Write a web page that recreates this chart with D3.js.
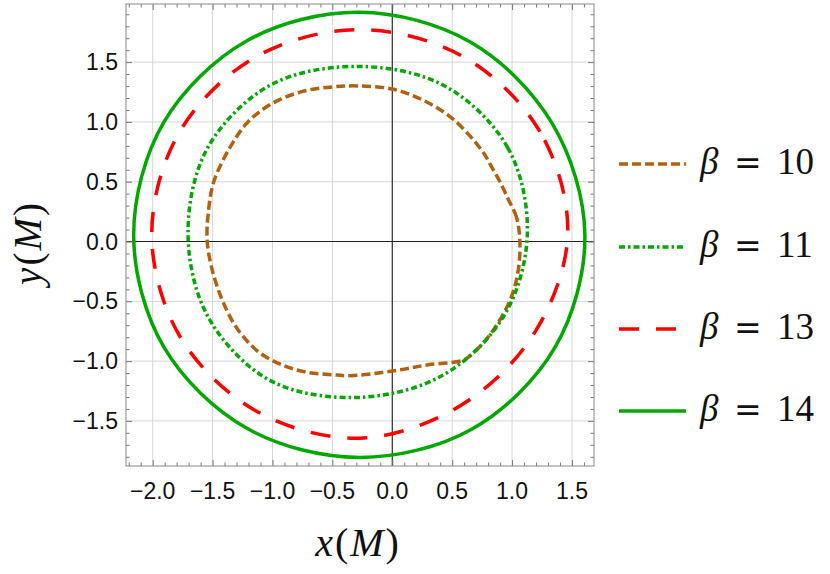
<!DOCTYPE html>
<html>
<head>
<meta charset="utf-8">
<script src="https://cdn.jsdelivr.net/npm/d3@7"></script>
<style>
  body { margin: 0; background: #fff; }
  svg { display: block; }
  .tick-label { font-family: "Liberation Sans", Arial, sans-serif; font-size: 23px; fill: #111; }
  .math { font-family: "Liberation Serif", "DejaVu Serif", serif; fill: #111; }
</style>
</head>
<body>
<div id="chart"></div>
<script>
// series labels
const betas = [10, 11, 13, 14];

// shadow contours, [x, y] in units of M
const curve10 = [
    [1.065, 0], [1.038, 0.2], [0.97, 0.35], [0.899, 0.5], [0.829, 0.624], [0.746, 0.764],
    [0.5, 1.03], [0.25, 1.185], [0, 1.275], [-0.29, 1.301], [-0.5, 1.293], [-0.75, 1.255],
    [-1.0, 1.156], [-1.2, 1.005], [-1.35, 0.795], [-1.49, 0.5], [-1.535, 0.25], [-1.545, 0],
    [-1.5, -0.25], [-1.415, -0.5], [-1.3, -0.72], [-1.12, -0.92], [-0.9, -1.04],
    [-0.7, -1.095], [-0.5, -1.114], [-0.35, -1.122], [-0.1, -1.097], [0.1, -1.067],
    [0.3, -1.03], [0.596, -0.991], [0.69, -0.919], [0.815, -0.78], [0.98, -0.5],
    [1.05, -0.25]
];
const curve11 = [
    [1.128, 0.08], [0.963, 0.786], [0.434, 1.303], [-0.289, 1.464], [-1.015, 1.309],
    [-1.54, 0.786], [-1.705, 0.08], [-1.54, -0.626], [-1.022, -1.161], [-0.289, -1.304],
    [0.42, -1.119], [0.938, -0.612]
];
const curve13 = [
    [1.465, 0.064], [1.233, 0.918], [0.597, 1.543], [-0.272, 1.772], [-1.14, 1.543],
    [-1.775, 0.918], [-2.008, 0.064], [-1.775, -0.79], [-1.14, -1.415], [-0.272, -1.644],
    [0.571, -1.371], [1.187, -0.764]
];
const curve14 = [
    [1.608, 0.055], [1.336, 0.985], [0.655, 1.666], [-0.275, 1.917], [-1.213, 1.679],
    [-1.907, 0.998], [-2.159, 0.055], [-1.905, -0.886], [-1.21, -1.564], [-0.275, -1.805],
    [0.663, -1.569], [1.357, -0.888]
];

// tick values
const xTicks = [-2.0, -1.5, -1.0, -0.5, 0.0, 0.5, 1.0, 1.5];
const yTicks = [-1.5, -1.0, -0.5, 0.0, 0.5, 1.0, 1.5];

const width = 830;
const height = 574;
const plot = { left: 126, right: 594, top: 4, bottom: 466 };

const x = d3.scaleLinear().domain([-2.223, 1.684]).range([plot.left, plot.right]);
const y = d3.scaleLinear().domain([-1.877, 1.986]).range([plot.bottom, plot.top]);

const styles = [
    { color: "#b3600f", dash: "9,4" },
    { color: "#00a800", dash: "6,3,2.5,3" },
    { color: "#ff0000", dash: "20,17" },
    { color: "#00a800", dash: null }
];
const curves = [curve10, curve11, curve13, curve14];

const svg = d3.select("#chart").append("svg")
    .attr("width", width)
    .attr("height", height);

const fmt = d => (d < 0 ? "\u2212" : "") + Math.abs(d).toFixed(1);

// grid
const grid = svg.append("g");
grid.selectAll(".gx").data(xTicks).enter().append("line")
    .attr("x1", d => x(d)).attr("x2", d => x(d))
    .attr("y1", plot.top).attr("y2", plot.bottom)
    .attr("stroke", "#d6d6d6").attr("stroke-width", 1);
grid.selectAll(".gy").data(yTicks).enter().append("line")
    .attr("y1", d => y(d)).attr("y2", d => y(d))
    .attr("x1", plot.left).attr("x2", plot.right)
    .attr("stroke", "#d6d6d6").attr("stroke-width", 1);

// zero axes
svg.append("line")
    .attr("x1", x(0)).attr("x2", x(0)).attr("y1", plot.top).attr("y2", plot.bottom)
    .attr("stroke", "#222").attr("stroke-width", 1.1);
svg.append("line")
    .attr("y1", y(0)).attr("y2", y(0)).attr("x1", plot.left).attr("x2", plot.right)
    .attr("stroke", "#222").attr("stroke-width", 1.1);

// frame ticks, inward on all sides
const minorX = d3.range(-22, 17).map(i => i / 10);
const minorY = d3.range(-18, 20).map(i => i / 10);
const isMajor = v => Math.abs(v * 2 - Math.round(v * 2)) < 1e-6;

svg.append("g")
    .attr("transform", `translate(0,${plot.bottom})`)
    .call(d3.axisTop(x).tickValues(minorX).tickSize(0).tickFormat(""))
    .call(g => g.select(".domain").remove())
    .call(g => g.selectAll(".tick line").attr("y2", d => isMajor(d) ? -6 : -3.5).attr("stroke", "#777"));
svg.append("g")
    .attr("transform", `translate(0,${plot.top})`)
    .call(d3.axisBottom(x).tickValues(minorX).tickSize(0).tickFormat(""))
    .call(g => g.select(".domain").remove())
    .call(g => g.selectAll(".tick line").attr("y2", d => isMajor(d) ? 6 : 3.5).attr("stroke", "#777"));
svg.append("g")
    .attr("transform", `translate(${plot.left},0)`)
    .call(d3.axisRight(y).tickValues(minorY).tickSize(0).tickFormat(""))
    .call(g => g.select(".domain").remove())
    .call(g => g.selectAll(".tick line").attr("x2", d => isMajor(d) ? 6 : 3.5).attr("stroke", "#777"));
svg.append("g")
    .attr("transform", `translate(${plot.right},0)`)
    .call(d3.axisLeft(y).tickValues(minorY).tickSize(0).tickFormat(""))
    .call(g => g.select(".domain").remove())
    .call(g => g.selectAll(".tick line").attr("x2", d => isMajor(d) ? -6 : -3.5).attr("stroke", "#777"));

svg.append("rect")
    .attr("x", plot.left).attr("y", plot.top)
    .attr("width", plot.right - plot.left).attr("height", plot.bottom - plot.top)
    .attr("fill", "none").attr("stroke", "#888").attr("stroke-width", 1);

// tick labels
svg.selectAll(".xl").data(xTicks).enter().append("text")
    .attr("class", "tick-label")
    .attr("x", d => x(d)).attr("y", plot.bottom + 33)
    .attr("text-anchor", "middle")
    .text(fmt);
svg.selectAll(".yl").data(yTicks).enter().append("text")
    .attr("class", "tick-label")
    .attr("x", plot.left - 8).attr("y", d => y(d) + 8)
    .attr("text-anchor", "end")
    .text(fmt);

// curves
const line = d3.line()
    .x(d => x(d[0]))
    .y(d => y(d[1]))
    .curve(d3.curveCatmullRomClosed.alpha(0.5));

const plotArea = svg.append("g");
curves.forEach((c, i) => {
    plotArea.append("path")
        .datum(c)
        .attr("d", line)
        .attr("fill", "none")
        .attr("stroke", styles[i].color)
        .attr("stroke-width", 3.5)
        .attr("stroke-dasharray", styles[i].dash);
});

// axis titles
function mathLabel(sel, v) {
    sel.append("tspan").attr("font-style", "italic").text(v);
    sel.append("tspan").text("(");
    sel.append("tspan").attr("font-style", "italic").text("M");
    sel.append("tspan").text(")");
}
svg.append("text").attr("class", "math")
    .attr("x", 358).attr("y", 556).attr("text-anchor", "middle")
    .attr("font-size", 40).attr("letter-spacing", 2)
    .call(mathLabel, "x");
svg.append("text").attr("class", "math")
    .attr("transform", "translate(41,243) rotate(-90)")
    .attr("text-anchor", "middle")
    .attr("font-size", 39).attr("letter-spacing", 2)
    .call(mathLabel, "y");

// legend
const legendY = [164, 247, 329, 411];
const legend = svg.append("g");
betas.forEach((b, i) => {
    legend.append("line")
        .attr("x1", 619).attr("x2", 686)
        .attr("y1", legendY[i]).attr("y2", legendY[i])
        .attr("stroke", styles[i].color)
        .attr("stroke-width", 3.5)
        .attr("stroke-dasharray", styles[i].dash);
    const t = legend.append("text").attr("class", "math")
        .attr("y", legendY[i] + 10).attr("font-size", 37);
    t.append("tspan").attr("x", 700).attr("font-style", "italic").text("\u03b2");
    t.append("tspan").attr("x", 734).attr("font-family", "DejaVu Serif").attr("font-size", 33)
        .attr("font-weight", 300).text("=");
    t.append("tspan").attr("x", 777).text(b);
});
</script>
</body>
</html>
